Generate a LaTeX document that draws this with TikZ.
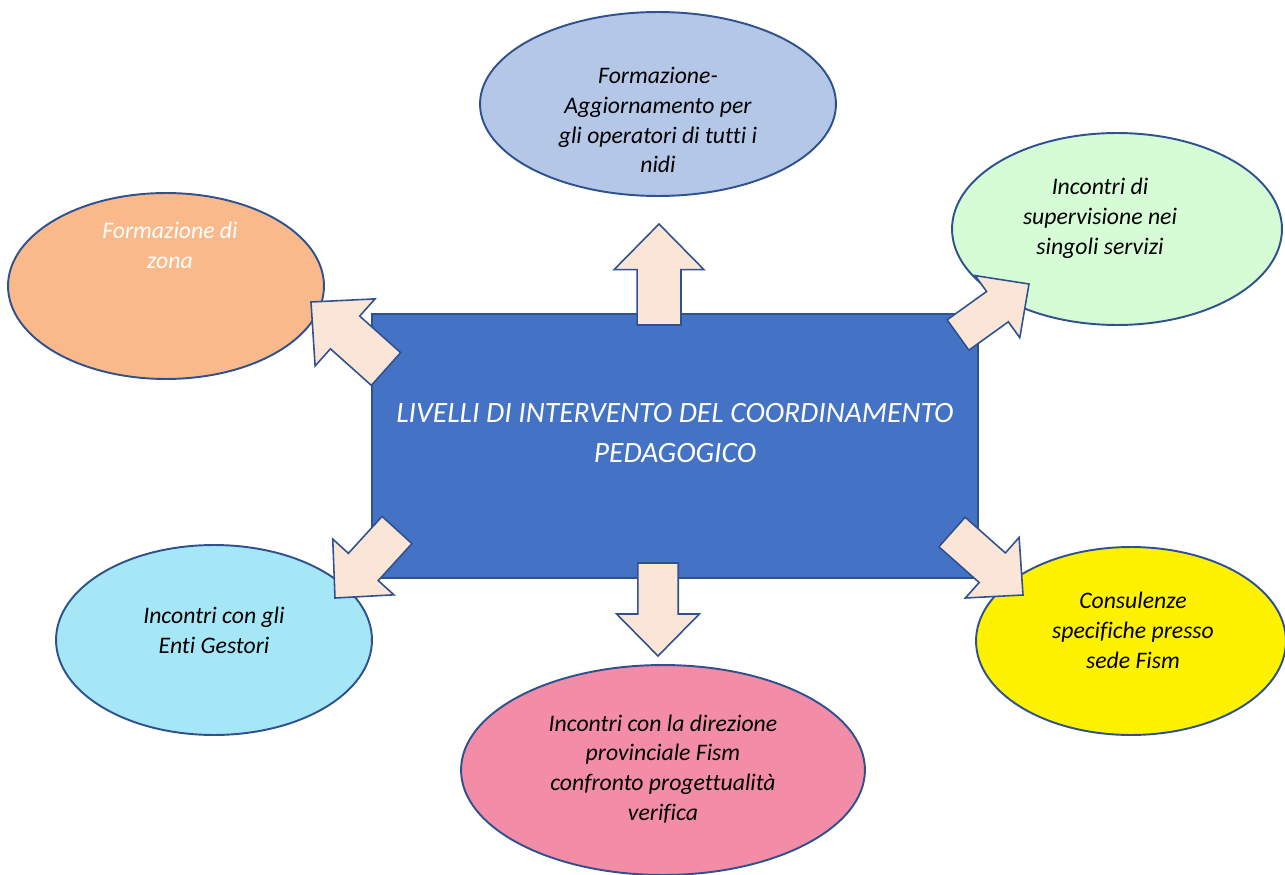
\documentclass[tikz,border=0pt]{standalone}
\usepackage{fontspec}
\setmainfont{Carlito}[Ligatures=CommonOff]
\usetikzlibrary{shapes.geometric,calc}

\definecolor{edgeblue}{HTML}{2F528F}
\definecolor{corefill}{HTML}{4472C4}
\definecolor{arrowfill}{HTML}{FBE5D6}
\definecolor{topfill}{HTML}{B4C7E7}
\definecolor{orangefill}{HTML}{F9B98B}
\definecolor{greenfill}{HTML}{D6FCD6}
\definecolor{cyanfill}{HTML}{A6E7F7}
\definecolor{pinkfill}{HTML}{F28CA7}

\newcommand{\blockarr}[3]{%
  \coordinate (ba-j) at ($(#2)!#3*26pt!(#1)$);
  \draw[arrowbox] ($(#1)!#3*12.5pt!90:(#2)$) -- ($(ba-j)!#3*12.5pt!90:(#2)$)
    -- ($(ba-j)!#3*25.6pt!90:(#2)$) -- (#2) -- ($(ba-j)!#3*25.6pt!-90:(#2)$)
    -- ($(ba-j)!#3*12.5pt!-90:(#2)$) -- ($(#1)!#3*12.5pt!-90:(#2)$) -- cycle;}

\begin{document}
\begin{tikzpicture}[x=0.02cm, y=-0.02cm,
    bubble/.style={ellipse, draw=edgeblue, line width=1.1pt, inner sep=0pt},
    bubbletext/.style={align=center, font=\fontsize{13.5}{17}\selectfont\itshape},
    arrowbox/.style={draw=edgeblue, line width=0.9pt, fill=arrowfill, line join=miter}]
    \useasboundingbox (0,0) rectangle (1285,875);

    \node[bubble, fill=topfill, minimum width=7.12cm, minimum height=3.68cm] (training) at (658,104) {};
    \node[bubble, fill=orangefill, minimum width=6.32cm, minimum height=3.72cm] (zone) at (166,286) {};
    \node[bubble, fill=greenfill, minimum width=6.6cm, minimum height=3.84cm] (supervision) at (1117,229) {};
    \node[bubble, fill=cyanfill, minimum width=6.32cm, minimum height=3.8cm] (managers) at (214,640) {};
    \node[bubble, fill=pinkfill, minimum width=8.08cm, minimum height=4.2cm] (direction) at (663,770) {};
    \node[bubble, fill=yellow, minimum width=6.2cm, minimum height=3.76cm] (advice) at (1131,641) {};

    \node[bubbletext] (trainingtext) at (658,120) {Formazione-\\Aggiornamento per\\gli operatori di tutti i\\nidi};
    \node[bubbletext, text=white] (zonetext) at (170,245) {Formazione di\\zona};
    \node[bubbletext] (supervisiontext) at (1100,218) {Incontri di\\supervisione nei\\singoli servizi};
    \node[bubbletext] (managerstext) at (214,630) {Incontri con gli\\Enti Gestori};
    \node[bubbletext] (directiontext) at (663,769) {Incontri con la direzione\\provinciale Fism\\confronto progettualità\\verifica};
    \node[bubbletext] (advicetext) at (1133,630) {Consulenze\\specifiche presso\\sede Fism};

    \node[draw=edgeblue, line width=1.1pt, fill=corefill, minimum width=12.12cm, minimum height=5.28cm] (core) at (675,446) {};
    \node[align=center, text=white, font=\fontsize{16.8}{22.8}\selectfont\itshape] (coretitle) at (675,433)
        {LIVELLI DI INTERVENTO DEL COORDINAMENTO\\PEDAGOGICO};

    \coordinate (up-t) at (659,325);
    \coordinate (up-h) at (659,224);
    \coordinate (lu-t) at (386,369);
    \coordinate (lu-h) at (311,302);
    \coordinate (ru-t) at (958,335);
    \coordinate (ru-h) at (1029,284);
    \coordinate (ld-t) at (397,530);
    \coordinate (ld-h) at (335,598);
    \coordinate (dn-t) at (658,563);
    \coordinate (dn-h) at (658,656);
    \coordinate (rd-t) at (952,532);
    \coordinate (rd-h) at (1023,595);

    \blockarr{up-t}{up-h}{1}
    \blockarr{lu-t}{lu-h}{1}
    \blockarr{ru-t}{ru-h}{0.85}
    \blockarr{ld-t}{ld-h}{0.92}
    \blockarr{dn-t}{dn-h}{0.92}
    \blockarr{rd-t}{rd-h}{0.9}
\end{tikzpicture}
\end{document}
